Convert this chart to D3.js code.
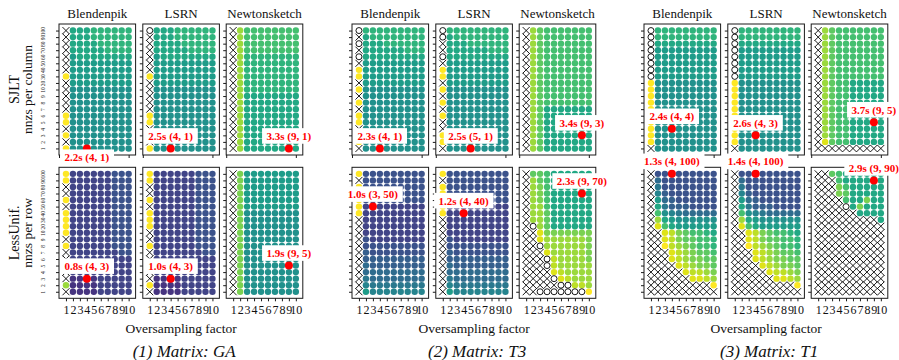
<!DOCTYPE html>
<html>
<head>
<meta charset="utf-8">
<script src="https://cdn.jsdelivr.net/npm/d3@7"></script>
<style>
  body { margin: 0; background: #fff; }
  svg { display: block; }
  svg text { font-family: "Liberation Serif", "Times New Roman", "DejaVu Serif", serif; }
</style>
</head>
<body>
<svg id="chart" width="899" height="360"></svg>
<script>
// ---- categories and axes -------------------------------------------------
const matrices = ["GA", "T3", "T1"];
const solvers = ["Blendenpik", "LSRN", "Newtonsketch"];
const sketches = ["SJLT", "LessUnif."];
const sketchUnits = ["nnzs per column", "nnzs per row"];
const oversampling = [1, 2, 3, 4, 5, 6, 7, 8, 9, 10];
const nnzLevels = [1, 2, 3, 4, 5, 6, 7, 8, 9, 10, 20, 30, 40, 50, 60, 70, 80, 90, 100];

// ---- run-time level per cell ---------------------------------------------
// One string per nnz level, from 100 (top) down to 1 (bottom); one character
// per oversampling factor 1..10.  Letters a..u = normalised solve time
// (a fastest, u slowest), "X" = run failed, "O" = run did not reach tolerance.
const gaSjltBlendenpik = [
  "Xmmmnnnnnn", "Xmmmnnnnnn", "Xmmmmnnnnn", "Xmmmmmnnnn", "Xlmmmmmmmm",
  "Xlllllllll", "Xlllllllll", "ulllllllll", "Xlllllllll", "Xkkkkkkkkk",
  "Xkkkkkkkkk", "Xkkkkkkkkk", "Xkkkkkkkkk", "ukkkkkkkkk", "ukkkkkkkkk",
  "Xkkkkkkkkk", "ukkkkkkkkk", "Xkkkkkkkkk", "ukkkkkkkkk"];
const gaSjltLsrn = [
  "Ommmnnnnnn", "Xmmmnnnnnn", "Xmmmmnnnnn", "Xmmmmmnnnn", "Xlmmmmmmmm",
  "Xlllllllll", "Xlllllllll", "ulllllllll", "Xlllllllll", "Xkkkkkkkkk",
  "Xkkkkkkkkk", "Xkkkkkkkkk", "Xkkkkkkkkk", "ukkkkkkkkk", "ukkkkkkkkk",
  "Xkkkkkkkkk", "ukkkkkkkkk", "Xkkkkkkkkk", "ukkkkkkkkk"];
const gaSjltNewton = [
  "Xroooooooo", "Xroooooooo", "Xroooooooo", "Xroooooooo", "Xrnnnnnnnn",
  "Xrnnnnnnnn", "Xrnnnnnnnn", "Xrnnnnnnnn", "Xrnnnnnnnn", "Xrnnnnnnnn",
  "Xrmmmmmmmm", "Xrmmmmmmmm", "Xrmmmmmmmm", "Xrmmmmmmmm", "Xrmmmmmmmm",
  "Xrmmmmmmmm", "Xrmmmmmmmm", "Xrmmmmmmmm", "Xrmmmmmmmm"];
const gaLessBlendenpik = [
  "ueeeeeefff", "ueeeeeefff", "Xeeeeeefff", "Xeeeeeefff", "ueeeeeefff",
  "Xeeeeeefff", "ueeeeeefff", "ueeeeeefff", "ueeeeeefff", "ueeeeeefff",
  "Xeeeeeefff", "ueeeeeefff", "Xeeeeeeeff", "Xeeeeeeeee", "Xeeeeeeeee",
  "Xeeeeeeeee", "Xddddeeeee", "rddddeeeee", "Xddddeeeee"];
const gaLessLsrn = [
  "ueeeeeefff", "ueeeeeefff", "Xeeeeeefff", "Xeeeeeefff", "ueeeeeefff",
  "Xeeeeeefff", "ueeeeeefff", "ueeeeeefff", "ueeeeeefff", "Xeeeeeefff",
  "Xeeeeeefff", "ueeeeeefff", "Xeeeeeeeff", "Xeeeeeeeee", "Xeeeeeeeee",
  "Xeeeeeeeee", "Xddddeeeee", "uddddeeeee", "Xddddeeeee"];
const gaLessNewton = [
  "Xqllllllll", "Xqllllllll", "Xqllllllll", "Xqllllllll", "Xqllllllll",
  "Xqllllllll", "Xqkkkkkkkk", "Xqkkkkkkkk", "Xqkkkkkkkk", "Xqkkkkkkkk",
  "Xqkkkkkkkk", "Xqkkkkkkkk", "Xqkkkkkkkk", "Xqkkkkkkkk", "Xqkkkkkkkk",
  "Xqkkkkkkkk", "Xqkkkkkkkk", "Xqkkkkkkkk", "Xqkkkkkkkk"];

const t3SjltBlendenpik = [
  "Onnnnnnnnn", "Xmnnnnnnnn", "Ommmnnnnnn", "Xmmmmmmnnn", "Ommmmmmmmm",
  "Xlllllllll", "ulllllllll", "ulllllllll", "Xlllllllll", "ukkkkkkkkk",
  "Xkkkkkkkkk", "ukkkkkkkkk", "Xkkkkkkkkk", "ukkkkkkkkk", "ukkkkkkkkk",
  "Xkkkkkkkkk", "ukkkkkkkkk", "ukkkkkkkkk", "Xkkkkkkkkk"];
const t3SjltLsrn = [
  "Onnnnnnnnn", "Omnnnnnnnn", "Xmmmnnnnnn", "Xmmmmmmnnn", "Ommmmmmmmm",
  "Xlllllllll", "ulllllllll", "ulllllllll", "Xlllllllll", "ukkkkkkkkk",
  "Xkkkkkkkkk", "ukkkkkkkkk", "Xkkkkkkkkk", "ukkkkkkkkk", "Xkkkkkkkkk",
  "Xkkkkkkkkk", "ukkkkkkkkk", "ukkkkkkkkk", "Xkkkkkkkkk"];
const t3SjltNewton = [
  "Xrpooooooo", "Xrpooooooo", "Xrpooooooo", "Xrpooooooo", "Xrpooooooo",
  "Xrpooooooo", "Xrpooooooo", "Xrpooooooo", "Xrpooooooo", "Xrpooooooo",
  "Xrpooooooo", "Xrpooooooo", "Xrpmmmmmmm", "Xrpmmmmmmm", "Xrpmmmmmmm",
  "Xrpmmmmmmm", "Xrpmmmmmmm", "Xrpmmmmmmm", "Xrpmmmmmmm"];
const t3LessBlendenpik = [
  "ufffffffff", "Xfffffffff", "ufffffffff", "ufffffffff", "ufffffffff",
  "ueeeeeeeee", "ueeeeeeeee", "Xeeeeeeeee", "Xeeeeeeeee", "Xeeeeeeeee",
  "Xfeeeeeeee", "Xfffffffff", "Xgffffffff", "Xggggggggg", "Xhgggggggg",
  "Xhhhhhhhhh", "Xihhhhhhhh", "Xjiiiiiiii", "Xljjjjjjjj"];
const t3LessLsrn = [
  "ufffffffff", "Xfffffffff", "ufffffffff", "ufffffffff", "Xfffffffff",
  "ueeeeeeeee", "ueeeeeeeee", "Xeeeeeeeee", "Xeeeeeeeee", "Xeeeeeeeee",
  "Xfeeeeeeee", "Xfffffffff", "Xgffffffff", "Xggggggggg", "Xhgggggggg",
  "Xhhhhhhhhh", "Xihhhhhhhh", "Xjiiiiiiii", "Xljjjjjjjj"];
const t3LessNewton = [
  "Xppommmmmm", "Xrpommmmmm", "Xrqommmmmm", "Xrqommmmmm", "Xrqommmmmm",
  "Xrrommmmmm", "Xrrpmmmmmm", "Xrrpmmmmmm", "XOrpmmmmmm", "XXtqqqqqqq",
  "XXtrrrrrrq", "XXOrrrrrrq", "XXXtrrrrrq", "XXXOsrrrrq", "XXXOsrrrrr",
  "XXXXtsrrrr", "XXXXOtsrrr", "XXXXXOOssr", "XXOOOOOOOu"];

const t1SjltBlendenpik = [
  "Onnnnnnnnn", "Onnnnnnnnn", "Ommmmmmmmm", "Olllllllll", "Olllllllll",
  "Olllllllll", "Olllllllll", "Olllllllll", "ukkkkkkkkk", "ukkkkkkkkk",
  "ukkkkkkkkk", "ukkkkkkkkk", "ukkkkkkkkk", "ukkkkkkkkk", "ukkkkkkkkk",
  "ukkkkkkkkk", "ukkkkkkkkk", "ukkkkkkkkk", "Xkkkkkkkkk"];
const t1SjltLsrn = [
  "Onnnnnnnnn", "Onnnnnnnnn", "Ommmmmmmmm", "Olllllllll", "Olllllllll",
  "Olllllllll", "Olllllllll", "Olllllllll", "ukkkkkkkkk", "ukkkkkkkkk",
  "ukkkkkkkkk", "ukkkkkkkkk", "ukkkkkkkkk", "ukkkkkkkkk", "ukkkkkkkkk",
  "ukkkkkkkkk", "ukkkkkkkkk", "ukkkkkkkkk", "Xkkkkkkkkk"];
const t1SjltNewton = [
  "Xrpooooooo", "Xrpooooooo", "Xrpooooooo", "Xrpooooooo", "Xrpooooooo",
  "Xrpooooooo", "Xrpooooooo", "Xrpooooooo", "Xrpoommmmm", "Xrpoommmmm",
  "Xrpoommmmm", "Xrpoommmmm", "Xrpoommmmm", "Xrpoommmmm", "Xrpoommmmm",
  "Xrpoommmmm", "Xrpoommmmm", "Xtpoommmmm", "XXXXXXXXXX"];
const t1LessBlendenpik = [
  "Xfffffffff", "Xhffffffff", "Xiffffffff", "Xjgfffffff", "Xlhgffffff",
  "Xmigggffff", "Xokjihhhhh", "Xrmlkkkkkk", "Xtomllllll", "XXtsqpoonm",
  "XXtsqppoon", "XXusrqpoon", "XXXtsrqppo", "XXXtsrqqpp", "XXXXtsrqqp",
  "XXXXXtssrq", "XXXXXXttsr", "XXXXXXXXXu", "XXXXXXXXXX"];
const t1LessLsrn = [
  "Xfffffffff", "Xhffffffff", "Xiffffffff", "Xjgfffffff", "Xlhgffffff",
  "Xmigggffff", "Xokjihhhhh", "Xrmlkkkkkk", "Xtomllllll", "XXtsqpoonm",
  "XXtsqppoon", "XXusrqpoon", "XXXtsrqppo", "XXXtsrqqpp", "XXXXtsrqqp",
  "XXXXXtssrq", "XXXXXXttsr", "XXXXXXXXXu", "XXXXXXXXXX"];
const t1LessNewton = [
  "XXpommmmmm", "XXXommmmmm", "XXXqommmmm", "XXXqpmmmmm", "XXXXommqmm",
  "XXXXOmqmmm", "XXXXXXmmmm", "XXXXXXXXXm", "XXXXXXXXXX", "XXXXXXXXXX",
  "XXXXXXXXXX", "XXXXXXXXXX", "XXXXXXXXXX", "XXXXXXXXXX", "XXXXXXXXXX",
  "XXXXXXXXXX", "XXXXXXXXXX", "XXXXXXXXXX", "XXXXXXXXXX"];

// ---- fastest configuration per panel (matrix, sketch, solver order) -------
const bestTime = [2.2, 2.5, 3.3, 0.8, 1.0, 1.9,
                  2.3, 2.5, 3.4, 1.0, 1.2, 2.3,
                  2.4, 2.6, 3.7, 1.3, 1.4, 2.9];
const bestOversampling = [4, 4, 9, 4, 4, 9,
                          4, 5, 9, 3, 4, 9,
                          4, 4, 9, 4, 4, 9];
const bestNnz = [1, 1, 1, 3, 3, 5,
                 1, 1, 3, 50, 40, 70,
                 4, 3, 5, 100, 100, 90];

// grids[matrix][sketch][solver]
const grids = [
  [[gaSjltBlendenpik, gaSjltLsrn, gaSjltNewton], [gaLessBlendenpik, gaLessLsrn, gaLessNewton]],
  [[t3SjltBlendenpik, t3SjltLsrn, t3SjltNewton], [t3LessBlendenpik, t3LessLsrn, t3LessNewton]],
  [[t1SjltBlendenpik, t1SjltLsrn, t1SjltNewton], [t1LessBlendenpik, t1LessLsrn, t1LessNewton]]
];

// ---- layout ----------------------------------------------------------------
const groupLeft = [59, 352, 644];
const solverOffset = [0, 83.8, 167.2];
const panelW = 76.6;
const rowTop = [24, 167.3];
const panelH = 131;
const levelCodes = "abcdefghijklmnopqrstu";
const stroke = "#1a1a1a";

const svg = d3.select("#chart");
const cellLayer = svg.append("g");
const frameLayer = svg.append("g");
const bestLayer = svg.append("g");
const labelLayer = svg.append("g");

const crossPath = "M-3.5,-3.5L3.5,3.5M-3.5,3.5L3.5,-3.5";

matrices.forEach((matrix, m) => {
  sketches.forEach((sketch, s) => {
    solvers.forEach((solver, v) => {
      const x0 = groupLeft[m] + solverOffset[v];
      const y0 = rowTop[s];
      const x = d3.scaleLinear().domain([0, 11]).range([x0, x0 + panelW]);
      const y = d3.scalePoint().domain(nnzLevels).range([y0 + panelH, y0]).padding(1);

      // cells
      const cells = [];
      grids[m][s][v].forEach((row, r) => {
        const nnz = nnzLevels[nnzLevels.length - 1 - r];
        [...row].forEach((code, c) => cells.push({ code, ov: oversampling[c], nnz }));
      });
      const g = cellLayer.append("g");
      g.selectAll("circle.val")
        .data(cells.filter(d => levelCodes.includes(d.code)))
        .join("circle")
        .attr("class", "val")
        .attr("cx", d => x(d.ov))
        .attr("cy", d => y(d.nnz))
        .attr("r", 3.2)
        .attr("fill", d => d3.interpolateViridis(levelCodes.indexOf(d.code) / 20));
      g.selectAll("circle.miss")
        .data(cells.filter(d => d.code === "O"))
        .join("circle")
        .attr("class", "miss")
        .attr("cx", d => x(d.ov))
        .attr("cy", d => y(d.nnz))
        .attr("r", 3.0)
        .attr("fill", "none")
        .attr("stroke", "#000")
        .attr("stroke-width", 0.9);
      g.selectAll("path.fail")
        .data(cells.filter(d => d.code === "X"))
        .join("path")
        .attr("class", "fail")
        .attr("transform", d => `translate(${x(d.ov)},${y(d.nnz)})`)
        .attr("d", crossPath)
        .attr("fill", "none")
        .attr("stroke", "#000")
        .attr("stroke-width", 0.9);

      // frame and axes
      const f = frameLayer.append("g");
      f.append("rect")
        .attr("x", x0).attr("y", y0)
        .attr("width", panelW).attr("height", panelH)
        .attr("fill", "none").attr("stroke", stroke).attr("stroke-width", 1);

      const yAxis = d3.axisLeft(y).tickSize(3).tickSizeOuter(0)
        .tickFormat(m === 0 && v === 0 ? d => d : () => "");
      const ya = f.append("g").attr("transform", `translate(${x0},0)`).call(yAxis);
      ya.select(".domain").remove();
      ya.selectAll(".tick line").attr("stroke", stroke);
      ya.selectAll(".tick text")
        .attr("x", 0).attr("y", -14).attr("dy", 0)
        .attr("transform", "rotate(-90)")
        .attr("text-anchor", "middle")
        .attr("font-size", 5.5)
        .attr("fill", "#222");

      const xAxis = s === 1
        ? d3.axisBottom(x).tickValues(oversampling).tickSize(3).tickSizeOuter(0)
        : d3.axisBottom(x).tickValues([0, 10]).tickSize(3).tickSizeOuter(0).tickFormat(() => "");
      const xa = f.append("g").attr("transform", `translate(0,${y0 + panelH})`).call(xAxis);
      xa.select(".domain").remove();
      xa.selectAll(".tick line").attr("stroke", stroke);
      xa.selectAll(".tick text")
        .attr("y", 7).attr("dy", "0.71em")
        .attr("font-size", 12)
        .attr("fill", "#111");

      // fastest run
      const k = m * 6 + s * 3 + v;
      const bx = x(bestOversampling[k]);
      const by = y(bestNnz[k]);
      bestLayer.append("circle")
        .attr("cx", bx).attr("cy", by).attr("r", 4)
        .attr("fill", "#ff0000");

      const below = (m === 0 && s === 0 && v === 0);
      const lab = labelLayer.append("g")
        .attr("transform", `translate(${bx},${by + (below ? 8.8 : -12.5)})`);
      const txt = lab.append("text")
        .attr("text-anchor", "middle")
        .attr("dy", "0.35em")
        .attr("font-size", 11)
        .attr("font-weight", "bold")
        .attr("fill", "#ff0000")
        .text(`${bestTime[k].toFixed(1)}s (${bestOversampling[k]}, ${bestNnz[k]})`);
      const bb = txt.node().getBBox();
      lab.insert("rect", "text")
        .attr("x", bb.x - 4.5).attr("y", -7.8)
        .attr("width", bb.width + 9).attr("height", 15.6)
        .attr("fill", "#fff");

      // solver names above the top row
      if (s === 0) {
        svg.append("text")
          .attr("x", x0 + panelW / 2).attr("y", 18)
          .attr("text-anchor", "middle")
          .attr("font-size", 13)
          .attr("fill", "#111")
          .text(solver);
      }
    });
  });

  // x-axis title and caption under each matrix group
  const cx = groupLeft[m] + solverOffset[1] + panelW / 2;
  svg.append("text")
    .attr("x", cx).attr("y", 333)
    .attr("text-anchor", "middle")
    .attr("font-size", 13.5)
    .attr("fill", "#111")
    .text("Oversampling factor");
  svg.append("text")
    .attr("x", cx + 3).attr("y", 357)
    .attr("text-anchor", "middle")
    .attr("font-size", 17)
    .attr("font-style", "italic")
    .attr("fill", "#111")
    .text(`(${m + 1}) Matrix: ${matrix}`);
});

// row titles on the left
sketches.forEach((sketch, s) => {
  const cy = rowTop[s] + panelH / 2;
  svg.append("text")
    .attr("transform", `translate(19,${cy}) rotate(-90)`)
    .attr("text-anchor", "middle")
    .attr("font-size", 14)
    .attr("fill", "#111")
    .text(sketch);
  svg.append("text")
    .attr("transform", `translate(32,${cy}) rotate(-90)`)
    .attr("text-anchor", "middle")
    .attr("font-size", 13.5)
    .attr("fill", "#111")
    .text(sketchUnits[s]);
});
</script>
</body>
</html>
